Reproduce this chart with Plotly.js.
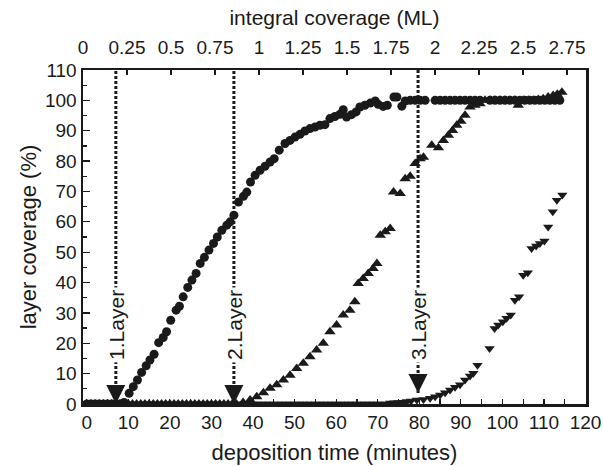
<!DOCTYPE html>
<html>
<head>
<meta charset="utf-8">
<script src="https://cdn.plot.ly/plotly-3.0.1.min.js"></script>
<style>html,body{margin:0;padding:0;background:#fff;}#chart{width:603px;height:466px;}</style>
</head>
<body>
<div id="chart"></div>
<script>
// ---- data ----
// layer 1 (circles)
var layer1T = [0,1,2,3,4,5,6,7,8,9,
  10.2,11.2,12.2,13.2,14.3,15.2,16.2,17.3,18.4,19.2,
  20.2,21.5,22.3,23.2,24.3,25.3,26.3,27.3,28.3,29.4,
  30.5,31.4,32.5,33.7,34.5,35.4,36.5,37.7,38.5,39.4,
  40.5,41.7,42.9,44.1,45.1,46.3,47.7,48.9,50.1,51.3,
  52.5,53.7,54.9,56.1,57.3,58.5,59.7,60.9,61.7,62.5,
  63.7,64.8,65.7,66.9,68.2,69.4,70.1,71.3,72.3,73.9,
  74.6,75.8,76.6,
  77.8,79,80.2,81.4,83.8,85,86.2,87.4,88.6,
  89.8,91,92.2,93.4,94.6,97,98.2,99.4,100.6,
  101.8,103,104.2,105.4,106.6,107.8,109,110.2,111.4,112.6,113.8];
var layer1Y = [0,0,0,0,0,0,0,0,0,0.5,
  3.5,5.7,7.9,10.4,12.6,14.5,16.4,20.2,21.9,23.8,
  27.6,30.9,32.2,35.3,38.4,40.8,43,46.3,48.3,50.7,
  52.9,55,57.2,58.9,60,62.2,66.5,68.4,69.8,73.1,
  75.3,77,78.3,79.7,80.8,83.6,85.8,86.8,87.9,88.8,
  89.9,90.7,91.2,91.8,92,94,94.7,95.4,96.9,94.5,
  95.3,96.2,97.8,98.4,99.1,99.8,98.7,98,98.4,101.1,
  101.1,98.1,99.8,
  100,100,100,100,100,100,100,100,100,
  100,100,100,100,100,100,100,100,100,
  100,100,100,100,100,100,100,100,100,100,100];

// layer 2 (up triangles)
var layer2T = [0,1,2,3,4,5,6,7,8,9,10,11,12,13,14,15,16,17,18,19,
  20,21,22,23,24,25,26,27,28,29,30,31,32,33,34,35,36,
  37.6,39.3,40.9,42.5,44.1,45.7,47.3,48.9,50.5,52.1,
  53.7,55.3,56.9,58.5,60.1,61.7,63.3,64.5,65.3,66.5,
  67.7,68.9,69.8,70.6,71.8,73,73.8,75.4,76.6,77.8,
  79,80.2,81,83,84.6,85.8,87,88,89,90,
  91,92.2,93.4,94.6,95.8,97,98.2,99.4,100.6,101.8,
  103,103.8,105,106.2,107.4,108.6,109.8,111,112.2,113.2,114.3];
var layer2Y = [0,0,0,0,0,0,0,0,0,0,0,0,0,0,0,0,0,0,0,0,
  0,0,0,0,0,0,0,0,0,0,0,0,0,0,0,0,0,
  0.5,1.3,2.4,3.7,5.2,6.3,7.9,9.5,11.7,13.4,
  15.6,17.8,20,23.8,26,29.3,30.9,33.7,39.7,41.3,
  43,44.6,46.3,55.6,56.7,57.8,69.8,69.3,74.2,75,
  79.2,80.8,81.3,85.2,84.4,86.8,88.5,90.1,91.8,93.1,
  95.1,97.8,98.4,98.9,100,100,100,100,100,100,
  100,98.4,100,100,100,100.3,100.5,101.1,101.6,102,102.7];

// layer 3 (down triangles)
var layer3T = [0,1,2,3,4,5,6,7,8,9,10,11,12,13,14,15,16,17,18,19,
  20,21,22,23,24,25,26,27,28,29,30,31,32,33,34,35,36,37,38,39,
  40,41,42,43,44,45,46,47,48,49,50,51,52,53,54,55,56,57,58,59,
  60,61,62,63,64,65,66,67,68,69,70,71,72,
  73,74,75,76,77,78,79.4,81,82.6,83.8,
  85,86.2,87.4,88.6,89.8,91,92.2,93,94,96.9,
  98.1,99,100.1,101,102,103,104,105,106.1,107,
  108.1,109,110.1,111,112.1,113.1,114.4];
var layer3Y = [0,0,0,0,0,0,0,0,0,0,0,0,0,0,0,0,0,0,0,0,
  0,0,0,0,0,0,0,0,0,0,0,0,0,0,0,0,0,0,0,0,
  0,0,0,0,0,0,0,0,0,0,0,0,0,0,0,0,0,0,0,0,
  0,0,0,0,0,0,0,0,0,0,0,0,0,
  0.3,0.4,0.5,0.6,0.8,1,1.3,1.5,1.9,2.4,
  3,3.7,4.6,5.5,6.3,7.9,9.2,10.1,12.8,18.3,
  24.9,26,27.1,28.2,29.3,34.2,35.3,42.4,43.2,51.2,
  52,52.9,53.7,58.3,63.3,67.1,68.8];

// layer completion markers
var layerNames = ['1.Layer', '2.Layer', '3.Layer'];
var layerTimes = [7.0, 35.4, 79.7];
var layerArrowY = [0, 0, 3.6];
var layerLabelY = [26, 26, 26];

// axis ticks
var xTicks = [0,10,20,30,40,50,60,70,80,90,100,110,120];
var yTicks = [0,10,20,30,40,50,60,70,80,90,100,110];
var mlTicks = [0,0.25,0.5,0.75,1,1.25,1.5,1.75,2,2.25,2.5,2.75];
var mlTickText = ['0','0.25','0.5','0.75','1','1.25','1.5','1.75','2','2.25','2.5','2.75'];

// ---- figure ----
var FONT = 'Liberation Sans, Arial, Helvetica, sans-serif';
var INK = '#1a1a1a';
var traces = [];

// dotted layer lines (drawn first)
for (var i = 0; i < layerTimes.length; i++) {
  traces.push({
    x: [layerTimes[i], layerTimes[i]],
    y: [layerArrowY[i], 110],
    mode: 'lines',
    line: {color: INK, width: 3, dash: '3px,2px'},
    hoverinfo: 'skip', showlegend: false
  });
}

traces.push({x: layer1T, y: layer1Y, mode: 'markers', type: 'scatter',
  marker: {symbol: 'circle', size: 9, color: INK}, showlegend: false});
traces.push({x: layer2T, y: layer2Y, mode: 'markers', type: 'scatter',
  marker: {symbol: 'triangle-up', size: 10, color: INK}, showlegend: false});
traces.push({x: layer3T, y: layer3Y, mode: 'markers', type: 'scatter',
  marker: {symbol: 'triangle-down', size: 9, color: INK}, showlegend: false});

// big arrows
traces.push({x: layerTimes, y: layerArrowY, mode: 'markers', type: 'scatter',
  marker: {symbol: 'arrow-down', size: 19, color: INK}, cliponaxis: false,
  hoverinfo: 'skip', showlegend: false});

// dummy trace for the top axis
traces.push({x: [mlTicks[0]], y: [null], xaxis: 'x2', yaxis: 'y',
  mode: 'markers', hoverinfo: 'skip', showlegend: false});

var annotations = [];
for (var j = 0; j < layerNames.length; j++) {
  annotations.push({
    x: layerTimes[j], y: layerLabelY[j], xref: 'x', yref: 'y',
    text: layerNames[j], textangle: -90, showarrow: false,
    bgcolor: '#ffffff', borderpad: 2,
    font: {family: FONT, size: 21, color: INK},
    xanchor: 'center', yanchor: 'middle'
  });
}

var layout = {
  width: 603, height: 466,
  margin: {l: 83, r: 17, t: 70, b: 62},
  paper_bgcolor: '#ffffff', plot_bgcolor: '#ffffff',
  font: {family: FONT, size: 18, color: INK},
  showlegend: false,
  xaxis: {
    range: [-0.9, 120.1], tickvals: xTicks, ticktext: xTicks.map(String),
    ticks: 'inside', ticklen: 5, tickwidth: 1.2, tickcolor: INK,
    minor: {dtick: 5, tick0: 0, ticks: 'inside', ticklen: 5, tickwidth: 1.2, tickcolor: INK},
    showline: true, linewidth: 2.5, linecolor: INK, mirror: true,
    showgrid: false, zeroline: false,
    tickfont: {family: FONT, size: 19, color: INK},
    title: {text: 'deposition time (minutes)', font: {family: FONT, size: 22, color: INK}, standoff: 13}
  },
  xaxis2: {
    overlaying: 'x', side: 'top', anchor: 'y',
    range: [0, 2.858], tickvals: mlTicks, ticktext: mlTickText,
    ticks: 'inside', ticklen: 5, tickwidth: 1.2, tickcolor: INK,
    ticklabelstandoff: 11,
    showline: false, showgrid: false, zeroline: false,
    tickfont: {family: FONT, size: 19, color: INK},
    title: {text: 'integral coverage (ML)', font: {family: FONT, size: 21, color: INK}, standoff: 5}
  },
  yaxis: {
    range: [0, 110], tickvals: yTicks, ticktext: yTicks.map(String),
    ticks: 'inside', ticklen: 7, tickwidth: 1.2, tickcolor: INK,
    minor: {dtick: 5, tick0: 0, ticks: 'inside', ticklen: 4, tickwidth: 1.2, tickcolor: INK},
    showline: true, linewidth: 2.5, linecolor: INK, mirror: true,
    showgrid: false, zeroline: false,
    tickfont: {family: FONT, size: 19, color: INK},
    title: {text: 'layer coverage (%)', font: {family: FONT, size: 22, color: INK}, standoff: 3}
  },
  annotations: annotations
};

Plotly.newPlot('chart', traces, layout, {displayModeBar: false, staticPlot: true});
</script>
</body>
</html>
